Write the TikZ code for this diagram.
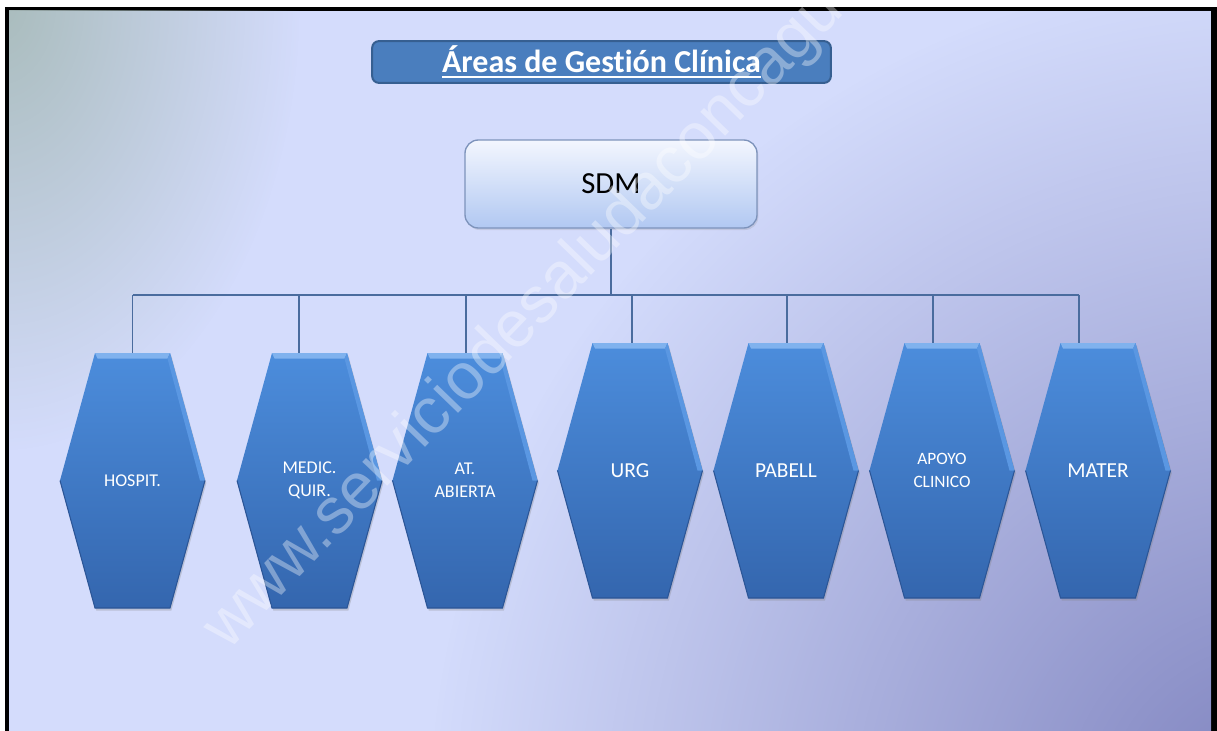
\documentclass[tikz,border=0pt]{standalone}
\usepackage{fontspec}
\setmainfont{Carlito}[Ligatures=NoCommon]
\newfontfamily\markfont{Liberation Sans}
\usetikzlibrary{fadings,shadows}
\newsavebox\ulbox
\newcommand\thickul[1]{\sbox\ulbox{#1}\usebox\ulbox\llap{\rule[-4.5pt]{\wd\ulbox}{1.8pt}}}
\definecolor{bgmain}{HTML}{D4DCFC}
\definecolor{bgdeep}{HTML}{7E82BE}
\definecolor{bggrey}{HTML}{A9BCBC}
\definecolor{titlefill}{HTML}{4A7EBE}
\definecolor{titleline}{HTML}{365F91}
\definecolor{sdmtop}{HTML}{F3F6FE}
\definecolor{sdmbot}{HTML}{B1C8F2}
\definecolor{sdmline}{HTML}{7D93BB}
\definecolor{hextopc}{HTML}{4C8DDC}
\definecolor{hexbotc}{HTML}{3466AE}
\definecolor{hexlight}{HTML}{80B2EE}
\definecolor{hexside}{HTML}{5A97E2}
\definecolor{hexedge}{HTML}{2B5596}
\definecolor{linkc}{HTML}{4A6C9E}
\tikzfading[name=glow, inner color=transparent!0, outer color=transparent!100]
\tikzset{
  titlebox/.style={draw=titleline, fill=titlefill, line width=1.5pt, rounded corners=5pt,
    minimum width=344pt, minimum height=31pt, text=white,
    font=\fontsize{24}{28}\selectfont\bfseries},
  sdmbox/.style={draw=sdmline, line width=1pt, rounded corners=10pt, top color=sdmtop,
    bottom color=sdmbot, minimum width=219pt, minimum height=66pt,
    font=\fontsize{23}{27}\selectfont,
    drop shadow={opacity=.2, shadow xshift=1pt, shadow yshift=-1.5pt}},
  hexbox/.style={minimum width=108.75pt, minimum height=191.25pt, inner sep=0pt,
    text=white, align=center},
  hexbody/.style={top color=hextopc, bottom color=hexbotc,
    drop shadow={opacity=.3, shadow xshift=1pt, shadow yshift=-2pt}},
  link/.style={draw=linkc, line width=.8pt},
  markstyle/.style={font=\markfont\fontsize{49}{55}\selectfont, text=white,
    text opacity=.36, inner sep=0pt}
}
\begin{document}
\begin{tikzpicture}[x=0.75pt, y=-0.75pt]
\useasboundingbox[fill=white] (0,0) rectangle (1217,731);
\fill[black] (5,7) rectangle (1217,731);
% fondo
\begin{scope}
\clip (9,11) rectangle (1211,731);
\fill[bgmain] (9,11) rectangle (1211,731);
\fill[bggrey, path fading=glow] (0,0) ellipse [x radius=300, y radius=450];
\fill[bgdeep, path fading=glow] (1280,820) circle (850);
\end{scope}
\node[titlebox] (title) at (601.5,62) {\thickul{Áreas de Gestión Clínica}};
\node[sdmbox] (sdm) at (611,184) {SDM};
\coordinate (bus) at (611,295);
% areas
\foreach \n/\x/\y/\d/\f/\t in {
  hosp/132.5/480.5/0/13.5/HOSPIT.,
  medq/309.5/480.5/-10.5/13.5/MEDIC.\\QUIR.,
  atab/465/480.5/1/13.5/AT.\\ABIERTA,
  urg/630/470.5/2/16/URG,
  pab/786/470.5/1/16/PABELL,
  apoy/942/470.5/-9/13/APOYO\\CLINICO,
  mat/1098/470.5/-19/16/MATER}{
  \shade[hexbody] (\x-72.5,\y) -- (\x-37.5,\y-127.5) -- (\x+37.5,\y-127.5) -- (\x+72.5,\y)
    -- (\x+37.5,\y+127.5) -- (\x-37.5,\y+127.5) -- cycle;
  \fill[hexlight] (\x-37.5,\y-127.5) -- (\x+37.5,\y-127.5) -- (\x+35,\y-122) -- (\x-35,\y-122) -- cycle;
  \fill[hexside] (\x+37.5,\y-127.5) -- (\x+72.5,\y) -- (\x+67.5,\y) -- (\x+35,\y-122) -- cycle;
  \draw[hexedge, line width=.8pt] (\x-72.5,\y) -- (\x-37.5,\y+127.5) -- (\x+37.5,\y+127.5) -- (\x+72.5,\y);
  \node[hexbox, font=\fontsize{\f}{17}\selectfont] (\n) at (\x,\y) {\t};
  \draw[link] ([xshift=\d*0.75pt]\n.north) -- ([xshift=\d*0.75pt]\n.north |- bus);
}
\draw[link] (sdm.south) -- (bus);
\draw[link] (hosp.north |- bus) -- ([xshift=-14.25pt]mat.north |- bus);
% marca de agua
\node[markstyle, rotate=46, anchor=base west] (mark) at (228,652) {www.serviciodesaludaconcagua.cl};
\end{tikzpicture}
\end{document}
